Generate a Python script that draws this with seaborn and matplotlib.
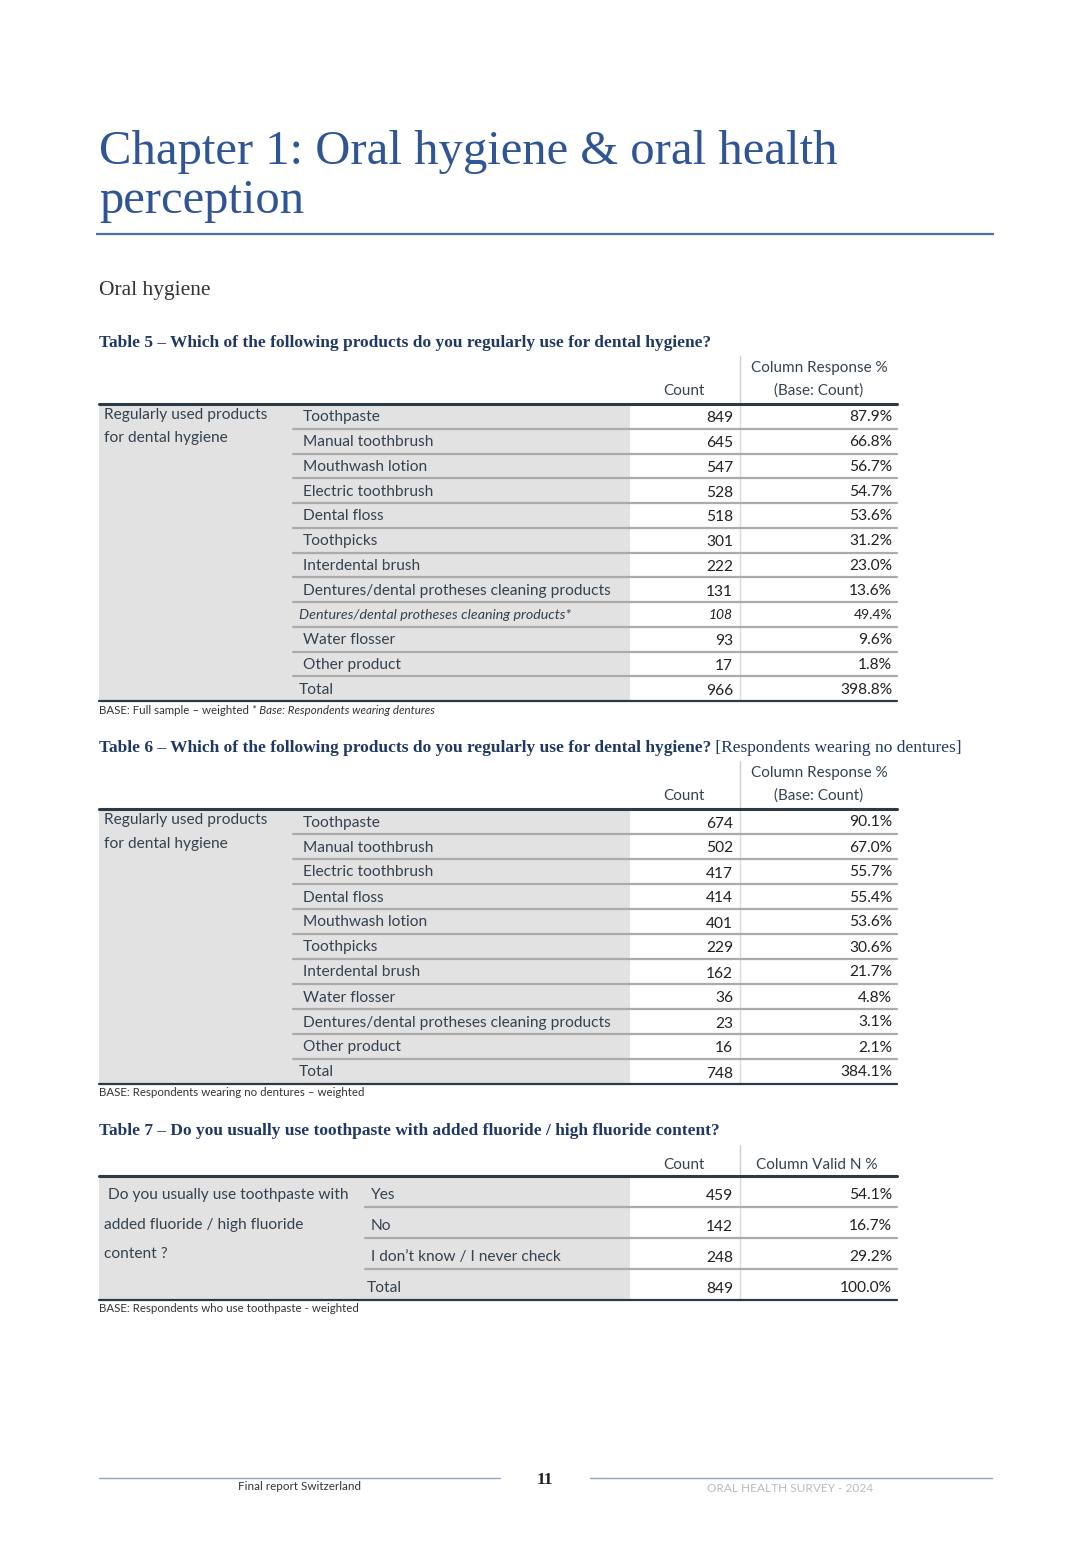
import matplotlib
matplotlib.use("Agg")
import matplotlib.pyplot as plt
import seaborn as sns
from matplotlib.patches import Rectangle

# ---------------- data ----------------
chapter_title = ["Chapter 1: Oral hygiene & oral health", "perception"]
section_title = "Oral hygiene"

t5_title = "Table 5 \u2013 Which of the following products do you regularly use for dental hygiene?"
t5_group = ["Regularly used products", "for dental hygiene"]
t5_labels = ["Toothpaste", "Manual toothbrush", "Mouthwash lotion", "Electric toothbrush",
             "Dental floss", "Toothpicks", "Interdental brush",
             "Dentures/dental protheses cleaning products",
             "Dentures/dental protheses cleaning products*",
             "Water flosser", "Other product", "Total"]
t5_counts = [849, 645, 547, 528, 518, 301, 222, 131, 108, 93, 17, 966]
t5_pcts = [87.9, 66.8, 56.7, 54.7, 53.6, 31.2, 23.0, 13.6, 49.4, 9.6, 1.8, 398.8]
t5_note = "BASE: Full sample \u2013 weighted "
t5_note_it = "* Base: Respondents wearing dentures"

t6_title = "Table 6 \u2013 Which of the following products do you regularly use for dental hygiene?"
t6_title_extra = " [Respondents wearing no dentures]"
t6_labels = ["Toothpaste", "Manual toothbrush", "Electric toothbrush", "Dental floss",
             "Mouthwash lotion", "Toothpicks", "Interdental brush", "Water flosser",
             "Dentures/dental protheses cleaning products", "Other product", "Total"]
t6_counts = [674, 502, 417, 414, 401, 229, 162, 36, 23, 16, 748]
t6_pcts = [90.1, 67.0, 55.7, 55.4, 53.6, 30.6, 21.7, 4.8, 3.1, 2.1, 384.1]
t6_note = "BASE: Respondents wearing no dentures \u2013 weighted"

t7_title = "Table 7 \u2013 Do you usually use toothpaste with added fluoride / high fluoride content?"
t7_group = [" Do you usually use toothpaste with", "added fluoride / high fluoride", "content ?"]
t7_labels = ["Yes", "No", "I don\u2019t know / I never check", "Total"]
t7_counts = [459, 142, 248, 849]
t7_pcts = [54.1, 16.7, 29.2, 100.0]
t7_note = "BASE: Respondents who use toothpaste - weighted"

footer_left = "Final report Switzerland"
footer_page = "11"
footer_right = "ORAL HEALTH SURVEY - 2024"

# ---------------- style ----------------
sns.set_theme(style="white")
plt.rcParams["font.family"] = ["Lato", "DejaVu Sans"]

W, H = 1090, 1542
fig = plt.figure(figsize=(W / 100, H / 100), dpi=100)
ax = fig.add_axes([0, 0, 1, 1])
ax.set_xlim(0, W)
ax.set_ylim(H, 0)
ax.axis("off")

BLUE = "#2F5597"
NAVY = "#1F3864"
TXT = "#35424F"
NUM = "#222222"
GRAY = "#E2E2E2"
SEP = "#ABABAB"
DARK = "#2B3A45"
SERIF = ["Liberation Serif", "DejaVu Serif"]

# chapter heading
ax.text(99, 152, chapter_title[0], fontsize=35, family=SERIF, color=BLUE, va="center", ha="left")
ax.text(99, 201, chapter_title[1], fontsize=35, family=SERIF, color=BLUE, va="center", ha="left")
ax.plot([96, 994], [234, 234], color="#4A70A8", lw=1.6, solid_capstyle="butt")
ax.text(99, 291, section_title, fontsize=15.5, family=SERIF, color="#333333", va="center")


def draw_table(title, title_extra, top, row_h, group, labels, counts, pcts,
               header, grp_end, lab_x, group_ys, group_x, note, note_it, italic_rows=(),
               total_dx=-4, dy=1):
    x0, xc, xs, x1 = 99, 630, 740, 897
    ty = top - 61 if header == "resp" else top - 45
    t = ax.text(99, ty, title, fontsize=12.5, family=SERIF,
                weight="bold", color=NAVY, va="center")
    if title_extra:
        fig.canvas.draw()
        bb = t.get_window_extent()
        ax.text(bb.x1, ty, title_extra, fontsize=12.5, family=SERIF,
                color=NAVY, va="center")
    # header
    if header == "resp":
        ax.text(819, top - 36, "Column Response %", fontsize=11, color=TXT, ha="center", va="center")
        ax.text(819, top - 13, "(Base: Count)", fontsize=11, color=TXT, ha="center", va="center")
        ax.text(705, top - 13, "Count", fontsize=11, color=TXT, ha="right", va="center")
        ax.plot([xs, xs], [top - 48, top], color="#D0D0D0", lw=1)
    else:
        ax.text(817, top - 11, "Column Valid N %", fontsize=11, color=TXT, ha="center", va="center")
        ax.text(705, top - 11, "Count", fontsize=11, color=TXT, ha="right", va="center")
        ax.plot([xs, xs], [top - 31, top], color="#D0D0D0", lw=1)
    n = len(labels)
    bottom = top + n * row_h
    ax.add_patch(Rectangle((x0, top), xc - x0, bottom - top, color=GRAY, lw=0, zorder=0))
    ax.plot([xs, xs], [top, bottom], color="#DADADA", lw=1, zorder=1)
    for i, (lab, c, p) in enumerate(zip(labels, counts, pcts)):
        yc = top + (i + 0.5) * row_h + dy
        if i > 0:
            ax.plot([grp_end + 3, x1], [top + i * row_h, top + i * row_h], color=SEP, lw=1.6, zorder=2)
        if i in italic_rows:
            ax.text(lab_x - 4, yc, lab, fontsize=10.3, style="italic", color=TXT, va="center")
            ax.text(733, yc, str(c), fontsize=10, style="italic", color=NUM, ha="right", va="center")
            ax.text(892, yc, f"{p:.1f}%", fontsize=10, color=NUM, ha="right", va="center")
            continue
        lx = lab_x + (total_dx if i == n - 1 else 0)
        ax.text(lx, yc, lab, fontsize=11.2, color=TXT, va="center")
        ax.text(733, yc + 1, str(c), fontsize=11.2, color=NUM, ha="right", va="center")
        ax.text(892, yc, f"{p:.1f}%", fontsize=11.2, color=NUM, ha="right", va="center")
    for gy, g in zip(group_ys, group):
        ax.text(group_x, gy, g, fontsize=11.2, color=TXT, va="center")
    ax.plot([x0, x1], [top, top], color=DARK, lw=2.2, zorder=3)
    ax.plot([x0, x1], [bottom, bottom], color=DARK, lw=1.6, zorder=3)
    nt = ax.text(99, bottom + 9, note, fontsize=8.3, color="#333333", va="center")
    if note_it:
        fig.canvas.draw()
        bb = nt.get_window_extent()
        ax.text(bb.x1, bottom + 9, note_it, fontsize=8.3, style="italic", color="#333333", va="center")


draw_table(t5_title, None, 404, 24.75, t5_group, t5_labels, t5_counts, t5_pcts, "resp",
           290, 303, [415, 438], 104, t5_note, t5_note_it, italic_rows=(8,))
draw_table(t6_title, t6_title_extra, 809, 25.0, t5_group, t6_labels, t6_counts, t6_pcts, "resp",
           290, 303, [820, 844], 104, t6_note, None)
draw_table(t7_title, None, 1176, 31.0, t7_group, t7_labels, t7_counts, t7_pcts, "valid",
           362, 371, [1195, 1225, 1254], 104, t7_note, None, dy=3.5)

# footer
ax.plot([99, 500], [1478, 1478], color="#8EA6C4", lw=1)
ax.plot([590, 992], [1478, 1478], color="#8EA6C4", lw=1)
ax.text(545, 1480, footer_page, fontsize=12.5, family=SERIF, weight="bold", color="#222222",
        ha="center", va="center")
ax.text(300, 1487, footer_left, fontsize=8.4, color="#333333", ha="center", va="center")
ax.text(790, 1489, footer_right, fontsize=8.6, color="#BBBBBB", ha="center", va="center")

fig.savefig("out.png", dpi=100, facecolor="white")
